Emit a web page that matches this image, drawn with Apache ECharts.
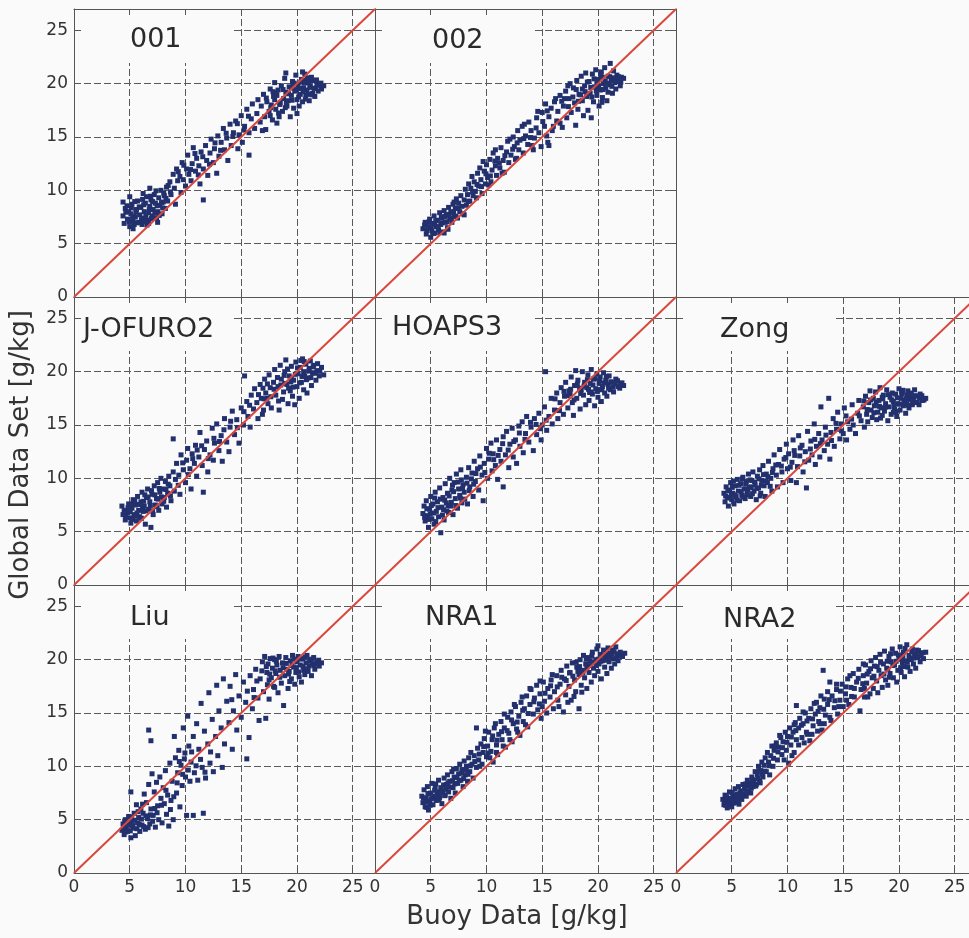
<!DOCTYPE html>
<html>
<head>
<meta charset="utf-8">
<script src="https://cdn.jsdelivr.net/npm/echarts@6/dist/echarts.min.js"></script>
<style>
html,body{margin:0;padding:0;background:#fafafa;}
#chart{width:969px;height:938px;}
</style>
</head>
<body>
<div id="chart"></div>
<script>
// ---------------- data ----------------
const panelNames = ['001', '002', 'J-OFURO2', 'HOAPS3', 'Zong', 'Liu', 'NRA1', 'NRA2'];
const axisMin = 0;
const axisMax = 27;
const tickStep = 5;
const xAxisTitle = 'Buoy Data [g/kg]';
const yAxisTitle = 'Global Data Set [g/kg]';
const oneToOne = [[0, 0], [27, 27]];

const p001 = [[4.4,7.6],[4.6,8.3],[4.5,6.9],[4.8,7.3],[4.9,8.0],[5.0,6.6],[5.1,7.8],[5.2,8.7],[5.3,7.1],[5.4,6.8],[5.5,7.5],[5.6,8.2],[5.7,9.0],[5.8,7.0],[5.9,7.7],[6.0,8.4],[6.1,6.8],[6.2,7.4],[6.3,8.0],[6.4,8.8],[6.5,9.4],[6.6,7.2],[6.7,7.9],[6.8,8.5],[6.9,9.1],[7.0,7.6],[7.1,8.2],[7.2,9.6],[7.3,8.8],[7.4,7.4],[7.5,8.0],[7.6,9.3],[7.7,8.6],[7.8,10.0],[7.9,7.8],[8.0,8.9],[8.1,9.5],[8.2,8.3],[8.3,10.3],[8.4,9.0],[5.0,9.4],[4.4,8.9],[6.2,9.7],[6.8,10.2],[7.5,7.0],[5.3,6.4],[6.7,6.9],
[8.6,10.8],[8.7,9.6],[8.9,11.5],[9.0,10.2],[9.1,8.7],[9.2,12.0],[9.3,10.9],[9.5,11.3],[9.6,9.8],[9.7,12.6],[9.8,11.0],[10.0,10.4],[10.1,12.0],[10.2,13.3],[10.3,11.5],[10.5,10.9],[10.6,12.5],[10.7,14.0],[10.9,11.8],[11.0,13.0],[11.2,12.3],[11.3,10.6],[11.4,13.6],[11.6,12.0],[11.6,9.1],[11.8,14.2],[11.9,12.8],[12.0,11.4],[12.2,13.5],[12.3,14.8],[12.5,12.6],[12.6,13.9],[12.8,11.6],[12.9,15.1],[13.0,13.2],[13.2,14.5],[13.4,15.8],[13.5,13.8],[13.7,14.9],[13.8,12.8],[14.0,16.2],[14.1,14.2],[14.3,15.4],[14.5,16.5],[14.7,13.9],[14.8,15.2],[15.0,17.0],[15.1,14.5],[15.7,13.3],
[15.3,16.0],[15.5,17.6],[15.7,15.4],[15.9,16.7],[16.0,18.1],[16.2,15.8],[16.4,17.2],[16.5,18.5],[16.7,16.4],[16.8,17.9],[17.0,19.0],[17.1,16.9],[17.2,15.7],[17.3,18.3],[17.5,17.4],[17.6,19.5],[17.7,18.0],[17.8,16.6],[17.9,18.8],[18.0,20.1],[18.1,17.6],[18.2,18.9],[18.3,19.4],[18.4,16.9],[18.5,18.2],[18.6,19.8],[18.7,17.4],[18.8,18.6],[18.9,20.5],[19.0,19.2],[19.1,17.9],[19.2,18.4],[19.3,19.7],[19.4,16.9],[19.5,18.9],[19.6,20.2],[19.7,17.7],[19.8,19.3],[19.9,20.8],[20.0,18.5],[20.1,19.9],[20.2,17.9],[20.3,19.0],[20.4,20.4],[20.5,18.3],[20.6,19.6],[20.7,20.9],[20.8,18.9],[20.9,19.4],[21.0,20.1],[21.1,18.4],[21.2,19.8],[21.3,20.6],[21.4,19.1],[21.5,20.3],[21.6,18.8],[21.7,19.6],[21.8,20.0],[21.9,19.3],[22.0,19.9],[22.2,19.5],[22.4,19.8],[19.0,21.0],[20.5,21.1],[18.2,16.3],[16.9,15.6],[17.6,17.0],[20.0,17.2],[18.0,18.5],[19.5,19.6],[20.8,20.3],[21.0,19.0],
[4.65,7.95],[4.95,7.05],[5.15,8.35],[5.35,7.55],[5.45,8.95],[5.65,6.95],[5.85,8.45],[6.05,7.25],[6.25,8.65],[6.45,7.55],[6.55,6.75],[6.75,8.25],[6.95,7.35],[7.05,8.95],[7.25,7.85],[7.45,8.55],[7.65,7.65],[7.85,8.85],[8.05,9.75],[8.25,9.25],[8.45,10.45],[8.65,9.85],[5.55,7.95],[6.35,7.05],[6.85,9.45],[7.35,9.95],[4.75,8.55],[6.15,9.15],[7.95,8.35],[5.25,7.35],
[9.35,11.75],[9.85,12.35],[10.45,11.95],[10.85,13.45],[11.15,11.45],[11.55,13.15],[12.15,12.45],[12.65,14.45],[13.15,13.75],[13.65,15.35],[14.25,15.05],[14.65,16.25],[15.25,15.65],[15.65,16.95],
[17.25,18.65],[17.65,17.75],[18.15,19.15],[18.45,18.05],[18.75,19.45],[19.05,18.15],[19.25,19.05],[19.55,18.45],[19.75,20.05],[19.95,19.45],[20.15,18.75],[20.35,20.15],[20.55,19.25],[20.75,18.55],[20.95,20.55],[21.15,19.65],[21.35,18.95],[21.55,19.55],[21.75,20.35],[21.95,19.85],[22.15,20.05],[18.95,17.75],[19.65,19.95],[20.25,19.55],[20.65,20.05],[21.25,20.25],[18.35,17.25],[17.85,19.25]];

const p002 = [[4.3,6.4],[4.5,7.0],[4.6,5.9],[4.8,6.6],[4.9,7.3],[5.0,5.6],[5.1,6.2],[5.2,6.9],[5.3,7.6],[5.4,6.0],[5.5,6.6],[5.6,7.2],[5.7,6.3],[5.8,7.9],[5.9,6.8],[6.0,7.4],[6.1,6.1],[6.2,8.1],[6.3,7.0],[6.4,7.7],[6.5,6.5],[6.6,8.4],[6.7,7.3],[6.8,8.0],[6.9,7.0],[7.0,8.7],[7.1,7.6],[7.2,8.3],[7.3,9.2],[7.4,7.4],[7.5,8.8],[7.6,8.0],[7.7,9.5],[7.8,8.5],[7.9,7.8],[8.0,9.1],[8.1,10.1],[8.2,8.6],[8.3,9.6],[8.4,10.6],[8.5,9.0],[8.6,10.2],[8.7,11.3],[8.8,9.5],[8.9,10.8],[9.0,9.9],[9.2,11.6],[9.3,10.4],[9.4,12.1],[9.5,11.0],[9.6,9.7],[9.8,11.8],[9.9,10.6],[10.0,12.4],[10.1,11.2],[10.3,12.9],[10.4,10.8],[10.5,11.9],[10.6,13.5],[10.8,12.3],[10.9,11.4],[11.0,13.0],[11.2,12.1],[11.3,14.0],[11.5,12.8],[11.6,11.7],[11.8,13.6],[11.9,14.6],[12.0,12.6],[12.2,13.3],[12.4,15.0],[12.5,14.1],[12.6,12.9],[12.8,15.6],[12.9,13.8],[13.0,14.7],[13.2,16.0],[13.3,13.5],[13.5,15.1],[13.7,14.3],[13.8,16.4],[14.0,15.6],[14.2,13.8],[14.3,14.9],[14.5,16.8],[14.7,15.4],[14.9,14.1],[15.0,17.3],[15.2,16.0],[15.3,18.1],[15.5,14.5],[15.6,16.9],[15.8,17.7],[15.9,15.6],[16.1,18.3],[16.3,16.5],[16.4,17.4],[16.6,18.9],[16.8,15.9],[16.9,17.9],[17.1,19.3],[17.2,16.8],[17.4,18.6],[17.5,20.0],[17.6,17.3],[17.8,19.6],[17.9,18.2],[18.0,16.1],[18.1,20.3],[18.2,17.6],[18.3,19.0],[18.5,20.7],[18.6,18.4],[18.7,17.0],[18.8,19.8],[18.9,21.0],[19.0,18.8],[19.1,17.5],[19.2,20.2],[19.3,19.1],[19.4,16.8],[19.5,20.9],[19.6,18.3],[19.7,19.7],[19.8,21.3],[19.9,18.9],[20.0,20.4],[20.1,17.9],[20.2,19.4],[20.3,21.1],[20.4,18.7],[20.5,20.0],[20.6,21.5],[20.7,19.6],[20.8,18.4],[20.9,20.7],[21.0,19.9],[21.1,21.9],[21.2,20.3],[21.3,19.1],[21.4,21.2],[21.5,20.1],[21.6,19.5],[21.7,20.8],[21.8,20.2],[22.0,19.8],[22.1,20.6],[22.3,20.5],[17.0,18.6],[19.9,20.0],[20.9,19.2],[16.0,16.0],[15.6,14.2],[18.6,19.5],[20.4,20.6],
[4.45,6.75],[4.65,6.25],[4.85,7.05],[5.05,6.45],[5.25,5.95],[5.45,7.15],[5.65,6.55],[5.85,6.05],[6.05,6.95],[6.25,7.55],[6.45,7.05],[6.65,7.75],[6.85,7.35],[7.05,7.95],[7.25,7.55],[7.45,8.35],[5.35,6.85],[5.95,7.45],[4.75,6.55],[6.55,6.35],
[8.35,8.95],[8.75,9.85],[9.15,10.55],[9.55,10.35],[9.95,11.55],[10.35,11.35],[10.75,12.75],[11.15,12.55],[11.65,13.25],[12.35,13.85],[12.75,14.45],[13.35,14.85],[13.95,14.95],[14.45,15.85],[15.05,16.45],[15.45,17.45],
[16.75,18.35],[17.35,17.85],[17.75,18.75],[18.05,19.45],[18.45,18.95],[18.85,19.25],[19.05,20.15],[19.35,19.65],[19.65,20.45],[19.85,19.35],[20.05,19.75],[20.25,20.85],[20.45,19.45],[20.65,20.25],[20.85,20.05],[21.05,20.65],[21.25,19.75],[21.45,20.55],[21.65,20.25],[21.85,20.65],[22.05,20.15],[20.35,18.25],[19.45,18.75],[18.25,18.35],
[9.7,12.7],[10.2,10.5],[10.8,13.8],[11.4,11.6],[12.1,14.8],[12.7,13.0],[13.4,16.2],[14.1,14.2],[14.6,17.4],[15.4,15.1],[16.2,18.6],[16.6,16.3],[17.3,19.8],[8.0,7.7],[7.1,8.9],[6.2,6.0],[9.1,9.3]];

const pJOFURO2 = [[4.3,7.4],[4.4,6.6],[4.5,7.0],[4.6,6.1],[4.8,6.8],[4.9,7.6],[5.0,6.3],[5.1,5.8],[5.2,7.2],[5.3,8.0],[5.4,6.6],[5.5,7.5],[5.6,6.0],[5.7,8.3],[5.8,7.0],[5.9,6.4],[6.0,7.8],[6.1,8.7],[6.2,6.9],[6.3,7.4],[6.4,5.7],[6.5,8.2],[6.6,9.0],[6.7,7.1],[6.8,7.8],[6.9,5.4],[7.0,8.5],[7.1,6.6],[7.2,9.3],[7.3,7.5],[7.4,8.1],[7.5,9.6],[7.6,7.0],[7.7,8.7],[7.8,10.0],[7.9,7.6],[8.0,9.0],[8.1,8.2],[8.2,9.7],[8.3,7.3],[8.4,8.6],[8.5,10.2],[8.6,9.3],[8.7,7.9],[8.9,13.7],[8.9,10.6],[9.0,8.8],[9.1,9.9],[9.2,11.4],[9.4,10.3],[9.5,8.5],[9.6,12.2],[9.8,10.8],[10.0,9.6],[10.1,11.7],[10.2,12.8],[10.4,10.9],[10.5,9.0],[10.6,12.3],[10.8,11.4],[10.9,13.1],[11.0,10.2],[11.2,12.0],[11.3,14.3],[11.5,11.2],[11.6,8.7],[11.7,12.7],[11.9,13.5],[12.0,10.6],[12.2,12.2],[12.4,14.7],[12.5,11.7],[12.6,13.3],[12.8,15.1],[13.0,12.6],[13.2,14.0],[13.3,11.6],[13.5,15.6],[13.7,13.4],[13.9,12.5],[14.0,14.8],[14.2,16.3],[14.4,14.1],[14.6,15.5],[14.8,13.3],[15.0,16.6],[15.2,15.0],[15.3,19.6],[15.5,17.2],[15.6,15.8],[15.8,14.8],[15.9,17.8],[16.1,16.5],[16.2,18.4],[16.4,17.1],[16.5,15.6],[16.7,18.8],[16.8,17.5],[17.0,16.4],[17.1,19.3],[17.2,18.0],[17.4,17.0],[17.5,19.7],[17.6,18.5],[17.7,16.6],[17.9,19.0],[18.0,20.2],[18.1,17.8],[18.3,18.6],[18.4,16.4],[18.5,20.6],[18.6,19.3],[18.7,17.4],[18.8,18.1],[18.9,20.0],[19.0,21.1],[19.1,18.8],[19.2,17.0],[19.3,19.6],[19.4,18.2],[19.5,20.5],[19.6,17.7],[19.7,19.2],[19.8,16.9],[19.9,20.9],[20.0,18.6],[20.1,19.8],[20.2,17.5],[20.3,20.4],[20.4,19.0],[20.5,21.2],[20.6,18.3],[20.7,19.6],[20.8,20.7],[20.9,18.0],[21.0,19.4],[21.1,20.3],[21.2,21.0],[21.3,18.7],[21.4,19.9],[21.5,20.6],[21.7,19.2],[21.8,20.1],[22.0,19.6],[22.2,20.4],[22.4,19.7],[17.3,17.5],[18.9,18.9],[20.6,20.0],[16.9,16.0],[19.5,19.4],
[4.65,6.45],[4.85,7.25],[5.05,6.85],[5.25,6.15],[5.45,7.85],[5.65,6.75],[5.85,7.55],[6.05,6.25],[6.25,7.85],[6.45,6.95],[6.65,8.25],[6.85,7.45],[7.05,6.95],[7.25,8.45],[7.45,7.35],[7.65,9.05],[7.85,8.25],[8.05,7.85],[8.25,8.95],[8.45,9.45],[8.65,8.35],[5.55,6.45],[6.15,7.35],[6.95,8.85],[7.55,8.05],[5.15,7.55],[6.35,8.45],
[9.35,9.35],[9.75,11.45],[10.25,10.35],[10.65,11.85],[11.05,12.65],[11.45,13.05],[12.05,11.85],[12.55,13.75],[13.05,13.45],[13.45,14.55],[14.05,15.35],[14.65,14.75],[15.25,16.25],[15.75,16.85],
[16.55,17.85],[16.95,18.45],[17.35,18.85],[17.65,17.65],[17.95,18.35],[18.25,19.45],[18.55,18.75],[18.85,19.65],[19.15,20.25],[19.45,19.05],[19.65,18.55],[19.85,19.75],[20.05,20.35],[20.25,18.95],[20.45,19.55],[20.65,20.95],[20.85,19.25],[21.05,20.05],[21.25,19.45],[21.45,20.45],[21.65,19.85],[21.85,20.75],[22.05,20.05],[18.35,17.25],[19.25,18.45],[20.35,21.05],[17.05,17.45]];

const pHOAPS3 = [[4.3,6.7],[4.4,7.4],[4.5,6.0],[4.6,7.9],[4.7,6.5],[4.8,5.4],[4.9,7.1],[5.0,8.3],[5.1,6.2],[5.2,7.6],[5.3,5.7],[5.4,8.7],[5.5,6.9],[5.6,7.8],[5.7,6.4],[5.8,9.1],[5.9,4.9],[6.0,7.3],[6.1,8.2],[6.2,6.1],[6.3,9.5],[6.4,7.7],[6.5,8.6],[6.6,6.8],[6.7,10.0],[6.8,7.4],[6.9,8.9],[7.0,6.6],[7.1,9.6],[7.2,8.1],[7.3,10.4],[7.4,7.2],[7.5,9.0],[7.6,8.4],[7.7,10.8],[7.8,7.7],[7.9,9.4],[8.0,8.7],[8.2,10.1],[8.3,7.6],[8.4,11.0],[8.5,9.2],[8.7,10.5],[8.8,8.3],[8.9,11.6],[9.0,9.7],[9.2,10.9],[9.3,8.9],[9.4,12.1],[9.6,10.3],[9.7,7.9],[9.8,11.4],[10.0,12.8],[10.1,10.0],[10.2,11.8],[10.4,13.3],[10.5,10.7],[10.6,12.3],[10.8,11.2],[10.9,13.6],[11.0,9.9],[11.2,12.7],[11.3,11.6],[11.5,9.2],[11.5,13.9],[11.7,12.2],[11.8,14.4],[12.0,11.0],[12.1,13.2],[12.3,14.7],[12.4,12.0],[12.6,13.6],[12.7,11.4],[12.9,14.9],[13.0,13.0],[13.2,15.3],[13.3,12.4],[13.5,14.2],[13.6,15.8],[13.8,13.4],[14.0,14.8],[14.2,12.6],[14.3,15.6],[14.5,14.1],[14.7,16.1],[14.9,13.6],[15.0,15.0],[15.2,16.7],[15.3,20.0],[15.4,14.5],[15.6,15.8],[15.8,17.5],[15.9,15.1],[16.1,16.4],[16.3,18.0],[16.4,15.6],[16.6,17.1],[16.7,18.5],[16.9,16.0],[17.0,17.7],[17.1,19.0],[17.3,16.6],[17.4,18.2],[17.6,19.5],[17.7,17.1],[17.8,15.9],[17.9,18.7],[18.0,20.1],[18.1,17.5],[18.2,19.2],[18.4,16.5],[18.5,18.3],[18.6,20.0],[18.7,17.8],[18.8,19.0],[18.9,16.9],[19.0,18.5],[19.1,19.7],[19.2,17.3],[19.3,18.9],[19.4,20.2],[19.5,17.9],[19.6,19.3],[19.7,16.8],[19.8,18.4],[19.9,19.8],[20.0,17.6],[20.1,18.9],[20.2,19.5],[20.3,17.2],[20.4,18.6],[20.5,19.9],[20.6,18.0],[20.7,19.2],[20.8,17.7],[20.9,18.8],[21.0,19.6],[21.1,18.3],[21.3,19.0],[21.4,18.1],[21.6,19.3],[21.8,18.6],[22.0,18.9],[22.3,18.7],[17.5,17.9],[19.4,18.1],[20.2,18.3],
[4.45,6.35],[4.65,7.15],[4.85,6.15],[5.05,7.45],[5.25,6.75],[5.45,5.95],[5.65,7.25],[5.85,8.05],[6.05,6.55],[6.25,7.95],[6.45,6.95],[6.65,8.35],[6.85,7.75],[7.05,8.75],[7.25,7.45],[7.45,9.65],[7.65,8.15],[7.85,9.05],[8.05,8.05],[8.25,9.55],[8.45,8.85],[8.65,9.95],[8.85,9.45],[9.05,10.45],[5.35,8.15],[6.15,7.05],[6.95,9.35],[7.75,9.85],[4.95,6.65],[6.55,7.45],
[9.45,11.05],[9.85,10.55],[10.25,12.35],[10.65,11.75],[11.05,12.15],[11.45,13.25],[11.95,12.65],[12.45,13.45],[12.95,14.25],[13.45,13.65],[13.95,15.25],[14.45,15.05],[14.85,14.65],[15.35,15.45],
[16.15,17.45],[16.55,16.35],[16.95,18.15],[17.25,17.75],[17.55,18.35],[17.85,17.35],[18.15,18.85],[18.45,17.95],[18.75,18.65],[19.05,19.25],[19.25,18.05],[19.55,18.75],[19.75,19.35],[19.95,18.15],[20.15,19.15],[20.35,18.35],[20.55,18.95],[20.75,19.55],[20.95,18.45],[21.15,19.05],[21.35,18.55],[21.55,18.85],[21.75,19.15],[21.95,18.45],[22.15,18.95],[18.35,18.45],[19.15,18.35]];

const pZong = [[4.3,8.6],[4.4,7.8],[4.5,9.2],[4.6,8.2],[4.7,7.4],[4.8,8.9],[4.9,9.6],[5.0,8.0],[5.1,8.6],[5.2,7.6],[5.3,9.3],[5.4,8.3],[5.5,9.9],[5.6,8.8],[5.7,7.9],[5.8,9.5],[5.9,8.4],[6.0,10.1],[6.1,9.0],[6.2,8.1],[6.3,9.7],[6.4,8.6],[6.5,10.4],[6.6,9.2],[6.7,8.3],[6.8,9.8],[6.9,10.6],[7.0,8.8],[7.1,9.4],[7.2,8.0],[7.3,10.2],[7.4,9.1],[7.5,10.8],[7.6,8.6],[7.7,9.8],[7.8,11.2],[7.9,9.3],[8.0,8.3],[8.1,10.4],[8.2,9.6],[8.3,11.6],[8.5,10.0],[8.6,8.8],[8.7,10.9],[8.8,12.2],[9.0,10.3],[9.1,9.2],[9.2,11.3],[9.3,12.7],[9.5,10.6],[9.6,9.6],[9.7,11.8],[9.9,13.2],[10.0,10.9],[10.1,12.3],[10.3,9.8],[10.4,11.5],[10.5,13.6],[10.6,12.6],[10.8,9.6],[10.9,11.1],[11.0,14.0],[11.1,12.1],[11.3,13.1],[11.4,10.6],[11.6,12.5],[11.7,9.1],[11.8,14.4],[11.9,11.7],[12.1,13.5],[12.2,12.2],[12.4,15.1],[12.5,11.3],[12.6,13.0],[12.8,14.2],[12.9,12.0],[13.0,16.7],[13.1,13.6],[13.3,12.6],[13.4,14.8],[13.6,13.2],[13.7,17.5],[13.8,11.8],[13.9,14.3],[14.1,15.6],[14.2,13.0],[14.4,14.6],[14.5,16.2],[14.7,13.7],[14.8,15.1],[15.0,14.2],[15.1,16.6],[15.3,13.6],[15.4,15.3],[15.6,14.6],[15.8,16.9],[15.9,15.0],[16.1,14.2],[16.3,16.1],[16.4,17.3],[16.6,15.4],[16.8,16.7],[16.9,14.8],[17.0,17.7],[17.1,16.0],[17.2,15.3],[17.3,17.1],[17.4,18.2],[17.5,16.4],[17.6,15.7],[17.7,17.5],[17.8,16.8],[17.9,18.1],[18.0,15.5],[18.1,16.2],[18.2,17.3],[18.3,18.5],[18.4,16.6],[18.5,15.9],[18.6,17.8],[18.7,16.3],[18.8,17.0],[18.9,18.3],[19.0,15.4],[19.1,16.7],[19.2,17.6],[19.3,16.0],[19.4,18.0],[19.5,17.2],[19.6,16.5],[19.7,17.9],[19.8,15.8],[19.9,17.0],[20.0,18.4],[20.1,16.4],[20.2,17.5],[20.3,18.1],[20.4,16.8],[20.5,17.3],[20.6,16.1],[20.7,17.8],[20.8,18.2],[20.9,16.6],[21.0,17.4],[21.1,18.0],[21.2,16.9],[21.3,17.6],[21.4,18.3],[21.5,17.1],[21.6,17.7],[21.8,16.9],[21.9,17.9],[22.1,17.3],[22.4,17.5],[18.5,17.6],[19.5,16.2],[20.7,17.0],
[4.45,8.35],[4.65,8.85],[4.85,8.15],[5.05,9.15],[5.25,8.45],[5.45,7.95],[5.65,9.35],[5.85,8.75],[6.05,8.25],[6.25,9.45],[6.45,8.95],[6.65,9.85],[6.85,8.55],[7.05,9.65],[7.25,9.05],[7.45,9.95],[7.65,9.35],[7.85,10.35],[8.05,9.75],[8.25,10.15],[8.45,9.25],[8.65,10.55],[5.15,9.75],[5.95,9.95],[6.75,9.15],[7.55,8.35],[4.95,8.55],[6.35,8.45],[8.95,11.25],[9.45,11.15],
[9.85,11.95],[10.25,11.05],[10.65,12.15],[11.15,12.85],[11.55,11.55],[12.05,12.75],[12.45,13.65],[12.95,13.25],[13.45,14.05],[13.95,13.55],[14.35,15.15],[14.85,14.45],[15.25,15.85],[15.75,15.55],
[16.45,15.85],[16.85,17.25],[17.15,16.45],[17.45,17.35],[17.75,16.15],[17.95,17.15],[18.25,16.75],[18.55,17.45],[18.75,16.65],[19.05,17.85],[19.35,17.35],[19.55,16.75],[19.85,17.55],[20.05,16.95],[20.25,17.95],[20.45,17.15],[20.65,17.45],[20.85,16.85],[21.05,17.85],[21.25,17.25],[21.45,17.75],[21.65,17.15],[21.85,17.55],[22.05,17.75],[22.25,17.35],[18.35,15.65],[19.75,16.25],[20.35,18.25]];

const pLiu = [[4.3,4.0],[4.4,4.6],[4.5,3.6],[4.6,5.0],[4.7,4.3],[4.8,3.9],[4.9,5.3],[5.0,4.6],[5.1,7.6],[5.1,3.3],[5.2,4.9],[5.3,4.2],[5.4,5.6],[5.5,3.5],[5.6,6.4],[5.7,4.7],[5.8,5.2],[5.9,3.9],[6.0,6.0],[6.1,4.5],[6.2,5.6],[6.3,7.4],[6.4,4.1],[6.5,6.6],[6.6,5.1],[6.7,13.4],[6.7,8.3],[6.8,4.6],[6.9,12.4],[6.9,6.0],[7.0,9.3],[7.1,5.4],[7.2,7.6],[7.3,4.3],[7.4,8.5],[7.5,6.3],[7.6,5.0],[7.7,9.0],[7.8,7.0],[7.9,4.7],[8.0,8.0],[8.1,6.5],[8.2,9.6],[8.3,5.5],[8.4,7.3],[8.5,4.4],[8.6,10.3],[8.7,6.8],[8.8,8.6],[8.9,5.0],[9.0,12.8],[9.1,10.8],[9.2,7.5],[9.3,9.4],[9.4,11.5],[9.5,6.2],[9.6,10.1],[9.7,8.2],[9.8,13.6],[9.9,10.7],[10.0,9.0],[10.1,5.4],[10.2,14.7],[10.3,11.9],[10.4,8.6],[10.5,10.4],[10.7,5.4],[10.7,12.8],[10.8,9.4],[11.0,14.0],[11.1,8.7],[11.2,11.6],[11.4,15.9],[11.5,9.9],[11.6,5.6],[11.7,13.3],[11.8,8.9],[12.0,12.1],[12.1,16.9],[12.2,10.3],[12.4,14.4],[12.5,9.5],[12.7,12.8],[12.8,17.6],[12.9,11.0],[13.0,15.2],[13.2,13.6],[13.3,9.9],[13.4,18.2],[13.5,12.1],[13.7,16.1],[13.9,14.1],[14.0,17.5],[14.2,11.6],[14.3,15.2],[14.5,18.6],[14.6,13.4],[14.8,16.6],[15.0,14.6],[15.2,17.9],[15.4,16.0],[15.5,10.7],[15.7,12.7],[15.8,18.5],[16.0,15.4],[16.1,17.2],[16.3,19.1],[16.5,16.4],[16.6,14.3],[16.7,18.2],[16.9,19.8],[17.0,17.0],[17.1,20.3],[17.2,14.5],[17.3,18.8],[17.4,19.6],[17.5,16.3],[17.6,20.1],[17.7,18.3],[17.8,19.2],[17.9,17.5],[18.0,20.0],[18.1,18.7],[18.2,19.5],[18.3,16.9],[18.4,20.3],[18.5,19.0],[18.6,17.8],[18.7,19.7],[18.8,15.7],[18.9,18.5],[19.0,20.2],[19.1,19.1],[19.2,17.3],[19.3,18.9],[19.4,19.9],[19.5,18.2],[19.6,20.4],[19.7,19.3],[19.8,17.7],[19.9,18.8],[20.0,19.8],[20.1,20.3],[20.2,18.4],[20.3,19.5],[20.4,17.9],[20.5,20.1],[20.6,19.0],[20.7,18.6],[20.8,19.7],[20.9,20.4],[21.0,18.9],[21.1,19.4],[21.2,20.0],[21.3,18.5],[21.4,19.6],[21.5,20.2],[21.6,19.1],[21.8,19.8],[22.0,19.4],[22.2,19.7],[17.5,18.1],[18.0,17.4],[16.4,18.0],
[4.45,4.25],[4.65,3.85],[4.85,4.55],[5.05,3.95],[5.25,4.45],[5.45,4.95],[5.65,4.15],[5.85,4.55],[6.05,5.05],[6.25,4.35],[6.45,5.35],[6.65,4.25],[6.85,5.45],[7.05,4.85],[7.25,6.05],[5.15,5.25],[5.75,5.75],[4.55,4.85],[6.15,6.45],[7.45,5.65],[7.85,6.35],[8.25,7.75],[8.65,5.95],[8.95,7.15],[9.25,8.45],[9.45,10.45],[9.75,9.25],[9.95,11.25],[10.25,9.65],[10.55,11.35],[10.95,10.05],[11.35,10.65],[11.75,9.45],[12.25,11.35],
[16.85,18.95],[17.25,19.35],[17.55,18.65],[17.85,20.15],[18.15,19.85],[18.45,18.35],[18.75,19.25],[19.05,19.65],[19.25,18.65],[19.55,19.45],[19.75,20.05],[19.95,19.25],[20.15,18.85],[20.35,20.05],[20.55,19.35],[20.75,20.25],[20.95,19.15],[21.15,19.85],[21.35,20.05],[21.55,19.45],[21.75,19.65],[21.95,19.95],[18.05,18.95],[19.35,17.95],[17.35,17.65],[16.15,16.45],[15.55,17.05],[14.15,16.25]];

const pNRA1 = [[4.2,7.2],[4.3,6.6],[4.4,7.8],[4.5,6.2],[4.6,7.0],[4.7,8.1],[4.8,5.9],[4.9,6.7],[5.0,7.5],[5.1,8.4],[5.2,6.4],[5.3,7.2],[5.4,8.0],[5.5,6.8],[5.6,7.6],[5.7,8.7],[5.8,7.1],[5.9,8.0],[6.0,6.5],[6.1,7.7],[6.2,8.9],[6.3,7.3],[6.4,8.3],[6.5,9.2],[6.6,7.6],[6.7,8.6],[6.8,7.0],[6.9,9.5],[7.0,8.0],[7.1,9.0],[7.2,7.5],[7.3,9.8],[7.4,8.4],[7.5,9.3],[7.6,10.2],[7.7,8.7],[7.8,9.7],[7.9,8.1],[8.0,10.5],[8.1,9.2],[8.2,10.0],[8.3,8.6],[8.4,10.8],[8.5,9.5],[8.6,11.3],[8.7,10.2],[8.8,8.9],[8.9,11.0],[9.1,13.6],[9.1,9.9],[9.2,11.7],[9.3,10.6],[9.5,12.1],[9.6,10.2],[9.7,11.3],[9.8,12.6],[10.0,10.9],[10.1,11.9],[10.2,13.2],[10.4,11.4],[10.5,12.5],[10.6,10.4],[10.7,13.6],[10.9,12.0],[11.0,11.1],[11.1,13.0],[11.3,14.2],[11.4,12.5],[11.6,13.6],[11.7,11.8],[11.9,14.6],[12.0,13.1],[12.2,15.1],[12.3,12.3],[12.4,14.0],[12.6,15.6],[12.7,13.5],[12.9,14.7],[13.0,12.9],[13.1,16.0],[13.3,14.2],[13.4,15.4],[13.6,16.6],[13.7,13.7],[13.9,15.8],[14.0,17.2],[14.2,14.9],[14.3,16.4],[14.5,17.6],[14.6,15.3],[14.8,16.8],[14.9,14.5],[15.1,17.9],[15.2,16.1],[15.4,15.0],[15.5,17.3],[15.7,16.5],[15.8,18.1],[16.0,15.4],[16.1,17.0],[16.3,18.5],[16.4,16.2],[16.6,17.7],[16.7,19.0],[16.9,15.1],[17.0,18.2],[17.1,16.7],[17.2,19.4],[17.4,17.5],[17.5,18.8],[17.6,16.2],[17.7,19.7],[17.9,18.1],[18.0,17.0],[18.1,19.3],[18.3,15.4],[18.3,18.6],[18.4,20.0],[18.5,17.6],[18.6,19.0],[18.7,20.4],[18.8,18.3],[18.9,19.6],[19.0,17.3],[19.1,20.2],[19.2,18.8],[19.3,19.9],[19.4,17.9],[19.5,20.7],[19.6,19.2],[19.7,18.5],[19.8,20.0],[19.9,21.0],[20.0,21.3],[20.0,18.9],[20.1,19.6],[20.2,20.5],[20.3,18.2],[20.4,19.9],[20.5,20.9],[20.6,19.3],[20.7,20.3],[20.8,18.7],[20.9,21.1],[21.0,19.8],[21.1,20.6],[21.2,19.2],[21.3,20.9],[21.4,20.1],[21.5,19.6],[21.6,21.2],[21.7,20.4],[21.8,19.9],[22.0,20.7],[22.2,20.3],[22.4,20.6],[19.0,19.2],[20.5,20.0],[18.2,18.9],
[4.35,7.05],[4.55,6.65],[4.75,7.45],[4.95,6.35],[5.15,7.05],[5.35,7.75],[5.55,7.25],[5.75,6.85],[5.95,7.55],[6.15,8.25],[6.35,7.85],[6.55,8.45],[6.75,8.05],[6.95,8.65],[7.15,8.35],[7.35,8.95],[7.55,8.65],[7.75,9.35],[7.95,8.85],[8.15,9.65],[8.35,9.25],[8.55,10.05],[4.65,6.15],[5.45,8.35],[6.25,7.25],[7.05,9.75],[5.05,6.95],
[8.95,10.45],[9.35,11.15],[9.75,11.85],[10.15,11.25],[10.55,12.85],[10.95,12.45],[11.35,13.25],[11.85,13.35],[12.25,14.35],[12.75,14.15],[13.25,15.25],[13.75,14.95],[14.25,16.05],[14.75,15.85],[15.25,16.85],[15.75,17.55],
[16.35,17.45],[16.75,18.35],[17.15,18.05],[17.45,18.75],[17.75,18.45],[18.05,19.75],[18.35,19.35],[18.65,18.75],[18.95,20.05],[19.25,19.45],[19.45,20.35],[19.65,19.75],[19.85,19.45],[20.05,20.05],[20.25,19.85],[20.45,20.45],[20.65,19.95],[20.85,20.55],[21.05,20.25],[21.25,20.55],[21.45,20.75],[21.65,20.15],[21.85,20.55],[22.05,20.35],[17.85,16.55],[18.55,16.95],
[9.4,10.0],[10.3,10.8],[10.9,11.3],[11.5,11.9],[12.1,12.5],[12.8,13.2],[13.5,13.9],[9.9,13.3],[10.8,14.0],[11.6,14.9],[12.5,15.8],[13.2,16.5],[13.9,17.3],[14.8,18.0],[15.9,18.6],[16.5,15.6],[17.3,16.0],[15.0,15.6]];

const pNRA2 = [[4.2,6.9],[4.3,6.4],[4.4,7.3],[4.5,6.7],[4.6,6.1],[4.7,7.0],[4.8,7.6],[4.9,6.5],[5.0,6.2],[5.1,7.2],[5.2,6.8],[5.3,7.9],[5.4,6.6],[5.5,7.4],[5.6,8.1],[5.7,7.0],[5.8,7.7],[5.9,6.9],[6.0,8.3],[6.1,7.4],[6.2,8.0],[6.3,7.2],[6.4,8.7],[6.5,7.7],[6.6,8.4],[6.7,7.5],[6.8,9.0],[6.9,8.1],[7.0,8.7],[7.1,9.5],[7.2,8.3],[7.3,9.2],[7.4,10.0],[7.5,8.7],[7.6,9.6],[7.7,10.4],[7.8,9.0],[7.9,10.1],[8.0,10.8],[8.1,9.5],[8.2,11.3],[8.3,10.4],[8.4,9.2],[8.5,11.0],[8.6,11.9],[8.7,10.0],[8.8,11.5],[9.0,12.2],[9.1,10.6],[9.2,11.8],[9.4,12.7],[9.5,11.1],[9.6,12.3],[9.8,13.2],[9.9,11.5],[10.0,12.8],[10.2,13.6],[10.3,12.0],[10.4,11.0],[10.5,13.2],[10.7,14.1],[10.8,15.7],[10.8,12.5],[11.0,13.6],[11.1,14.5],[11.3,12.7],[11.4,14.0],[11.6,15.0],[11.7,13.2],[11.9,14.5],[12.0,12.4],[12.1,15.4],[12.3,13.8],[12.5,14.9],[12.6,16.0],[12.8,14.2],[12.9,15.5],[13.1,13.4],[13.2,19.0],[13.3,16.3],[13.4,14.8],[13.6,15.8],[13.8,17.9],[13.9,14.3],[14.0,16.6],[14.2,15.5],[14.4,17.2],[14.5,14.9],[14.7,16.2],[14.9,17.7],[15.0,15.6],[15.2,16.8],[15.4,18.2],[15.5,15.8],[15.7,17.4],[15.9,18.7],[16.0,16.5],[16.2,17.9],[16.4,19.1],[16.5,15.2],[16.6,17.2],[16.8,18.5],[16.9,16.5],[17.0,19.5],[17.1,17.8],[17.3,18.9],[17.4,16.8],[17.5,19.9],[17.6,18.3],[17.7,17.3],[17.8,19.4],[17.9,20.2],[18.0,18.0],[18.1,16.9],[18.2,19.0],[18.3,20.5],[18.4,18.5],[18.5,17.4],[18.6,19.6],[18.7,20.8],[18.8,18.1],[18.9,19.2],[19.0,17.6],[19.1,20.3],[19.2,18.7],[19.3,19.8],[19.4,21.0],[19.5,18.3],[19.6,19.5],[19.7,20.6],[19.8,17.9],[19.9,19.0],[20.0,20.1],[20.1,21.2],[20.2,18.8],[20.3,19.7],[20.4,20.7],[20.5,18.4],[20.6,19.9],[20.7,21.4],[20.8,19.3],[20.9,20.4],[21.0,18.9],[21.1,20.0],[21.2,21.0],[21.3,19.6],[21.4,20.5],[21.5,19.2],[21.6,20.9],[21.7,20.2],[21.9,19.8],[22.0,20.6],[22.2,20.1],[22.4,20.7],[19.0,19.1],[20.3,20.0],
[4.35,6.75],[4.55,7.15],[4.75,6.45],[4.95,6.95],[5.15,6.55],[5.35,7.25],[5.55,6.85],[5.75,7.45],[5.95,7.25],[6.15,7.85],[6.35,7.55],[6.55,8.15],[6.75,7.95],[6.95,8.45],[7.15,8.15],[7.35,8.85],[7.55,8.45],[7.75,9.25],[4.45,6.35],[5.05,7.55],[5.65,6.45],[6.25,8.35],[6.85,8.75],[7.45,9.55],[4.85,6.85],
[7.95,9.55],[8.35,10.05],[8.75,10.75],[9.15,11.35],[9.55,11.75],[9.95,12.25],[10.35,12.75],[10.75,13.35],[11.25,13.85],[11.75,14.25],[12.25,14.45],[12.75,15.15],[13.25,15.35],[13.75,16.25],[14.25,16.15],[14.75,17.05],[15.25,17.45],[15.75,16.55],
[16.35,18.25],[16.75,17.75],[17.15,18.65],[17.45,19.15],[17.75,18.45],[18.05,19.35],[18.35,19.75],[18.65,18.65],[18.95,19.85],[19.25,20.55],[19.45,19.45],[19.75,19.85],[19.95,20.45],[20.15,19.25],[20.35,20.35],[20.55,21.05],[20.75,19.75],[20.95,20.15],[21.15,20.75],[21.35,20.15],[21.55,20.45],[21.75,20.85],[21.95,20.35],[22.15,20.65],[19.15,18.35],[20.45,19.35],
[9.7,10.6],[10.1,10.3],[10.6,11.3],[11.0,12.0],[11.5,12.2],[12.2,13.0],[12.7,13.3],[13.3,14.0],[13.8,14.6],[9.3,12.9],[10.6,13.9],[11.4,15.1],[12.4,15.9],[13.0,16.6],[13.6,17.0],[14.4,17.7],[8.9,11.9],[11.8,13.0],[12.9,14.0],[14.6,15.6],[15.3,16.2],[16.0,17.3],[15.6,18.5],[16.8,19.6],[16.9,17.3],[17.2,16.5]];

const panelData = [p001, p002, pJOFURO2, pHOAPS3, pZong, pLiu, pNRA1, pNRA2];

// ---------------- layout ----------------
const panelCell = [[0,0],[1,0],[0,1],[1,1],[2,1],[0,2],[1,2],[2,2]];
const colLeft = [74, 375, 676];
const rowTop = [9, 297, 585];
const panelW = 301, panelH = 288;
// title text offset (left edge, vertical centre) inside each panel
const titleOffset = [[56,31],[57,32],[9,33],[17,31],[44,33],[56,33],[50,33],[47,35]];

const FONT = '"DejaVu Sans", "Liberation Sans", sans-serif';
const dotColor = '#22306e';
const lineColor = '#d8483d';
const frameColor = '#555';
const gridColor = '#5a5a5a';
const bg = '#fafafa';

const grids = [], xAxes = [], yAxes = [], series = [], graphics = [];
const tickFmt = v => (v % tickStep === 0 ? String(v) : '');

panelNames.forEach((name, i) => {
  const [c, r] = panelCell[i];
  const left = colLeft[c], top = rowTop[r];
  grids.push({left: left, top: top, width: panelW, height: panelH, outerBoundsMode: 'none', containLabel: false});
  const base = {
    gridIndex: i, type: 'value', min: axisMin, max: axisMax, interval: tickStep,
    axisLine: {show: true, onZero: false, lineStyle: {color: frameColor, width: 1}},
    axisTick: {show: true, inside: true, length: 5, lineStyle: {color: frameColor, width: 1}}
  };
  xAxes.push(Object.assign({}, base, {
    position: 'bottom',
    axisLabel: {show: r === 2, formatter: tickFmt, fontSize: 17, color: '#333', fontFamily: FONT, margin: 6, showMaxLabel: false},
    splitLine: {show: true, lineStyle: {color: gridColor, width: 1, type: [7, 3]}}
  }));
  xAxes.push(Object.assign({}, base, {
    position: 'top', axisLabel: {show: false}, splitLine: {show: false}
  }));
  yAxes.push(Object.assign({}, base, {
    position: 'left',
    axisLabel: {show: c === 0, formatter: tickFmt, fontSize: 17, color: '#333', fontFamily: FONT, margin: 6, showMaxLabel: false},
    splitLine: {show: true, lineStyle: {color: gridColor, width: 1, type: [7, 3]}}
  }));
  yAxes.push(Object.assign({}, base, {
    position: 'right', axisLabel: {show: false}, splitLine: {show: false}
  }));
  series.push({
    type: 'scatter', xAxisIndex: 2 * i, yAxisIndex: 2 * i,
    data: panelData[i], symbol: 'rect', symbolSize: 5,
    itemStyle: {color: dotColor, opacity: 1}, z: 2, silent: true, animation: false
  });
  series.push({
    type: 'line', xAxisIndex: 2 * i, yAxisIndex: 2 * i,
    data: oneToOne, symbol: 'none', lineStyle: {color: lineColor, width: 2},
    z: 3, silent: true, animation: false, clip: true
  });
  graphics.push({
    type: 'rect', z: 20, silent: true,
    shape: {x: left + 7, y: top + 6, width: 151, height: 48},
    style: {fill: bg}
  });
  graphics.push({
    type: 'text', z: 21, silent: true,
    x: left + titleOffset[i][0], y: top + titleOffset[i][1],
    style: {text: name, fontSize: 27, fontFamily: FONT, fill: '#2a2a2a',
            align: 'left', verticalAlign: 'middle', textAlign: 'left', textVerticalAlign: 'middle'}
  });
});

graphics.push({
  type: 'text', z: 21, silent: true, x: 517, y: 917,
  style: {text: xAxisTitle, fontSize: 26, fontFamily: FONT, fill: '#333',
          align: 'center', verticalAlign: 'middle', textAlign: 'center', textVerticalAlign: 'middle'}
});
graphics.push({
  type: 'text', z: 21, silent: true, x: 21, y: 455, rotation: Math.PI / 2,
  style: {text: yAxisTitle, fontSize: 26, fontFamily: FONT, fill: '#333',
          align: 'center', verticalAlign: 'middle', textAlign: 'center', textVerticalAlign: 'middle'}
});

const chart = echarts.init(document.getElementById('chart'), null, {renderer: 'canvas'});
chart.setOption({
  backgroundColor: bg,
  animation: false,
  grid: grids,
  xAxis: xAxes,
  yAxis: yAxes,
  series: series,
  graphic: {elements: graphics}
});
</script>
</body>
</html>
